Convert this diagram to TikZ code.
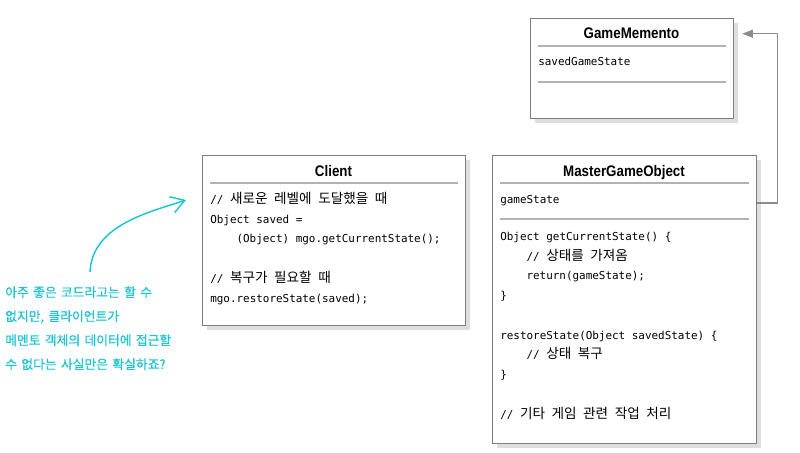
\documentclass[tikz,border=0pt]{standalone}
\usepackage{fontspec}
\setmainfont{Liberation Sans}
\setmonofont{DejaVu Sans Mono}
\newfontfamily\titlefont[FakeStretch=0.87]{Liberation Sans}
\newfontfamily\krfont{Noto Sans CJK KR}
\newfontfamily\notefont[WordSpace=1.5,FakeBold=0.6]{Noto Sans CJK KR}
\usetikzlibrary{positioning,calc,shadows,arrows.meta}
\definecolor{boxgray}{RGB}{125,125,125}
\definecolor{rulegray}{RGB}{178,178,178}
\definecolor{shadowgray}{RGB}{222,222,222}
\definecolor{linkgray}{RGB}{140,140,140}
\definecolor{notecyan}{RGB}{30,196,210}
\newcommand\kr[1]{{\krfont\fontsize{10.2}{14.8}\selectfont #1}}
\newcommand\ind{\hspace*{19.7pt}}

\begin{document}
\begin{tikzpicture}[x=0.75pt, y=-0.75pt,
  box/.style = {draw=boxgray, line width=0.9pt, fill=white,
    anchor=north west, inner sep=0pt,
    drop shadow={shadow xshift=3.5pt, shadow yshift=-3.5pt,
      fill=shadowgray, opacity=1}},
  title/.style = {font=\titlefont\bfseries\fontsize{11.5}{12}\selectfont,
    inner sep=0pt, anchor=base},
  code/.style = {font=\ttfamily\fontsize{8.2}{14.8}\selectfont,
    align=left, anchor=base west, inner sep=0pt},
  sep/.style = {draw=rulegray, line width=0.8pt},
  link/.style = {draw=linkgray, line width=0.8pt,
    -{Triangle[length=8pt,width=6pt]}},
  note/.style = {font=\notefont\fontsize{9.6}{18}\selectfont, text=notecyan,
    align=left, anchor=base west, inner sep=0pt},
  notearr/.style = {draw=notecyan, line width=1.1pt,
    -{Straight Barb[length=10pt,width=12.5pt]}}
  ]
  \useasboundingbox (0,0) rectangle (800,453);

  \node (memento) [box, minimum width=152.25pt, minimum height=75pt] at (530,18) {};
  \node (client) [box, minimum width=197.25pt, minimum height=127.5pt] at (202,155) {};
  \node (mgo) [box, minimum width=198pt, minimum height=216pt] at (492,155) {};

  \node (mementotitle) [title] at (631.5,39) {GameMemento};
  \node (clienttitle) [title] at (333.5,176) {Client};
  \node (mgotitle) [title] at (624,176) {MasterGameObject};

  \draw [sep] ($(memento.north west)+(8,28)$) -- ($(memento.north east)+(-8,28)$);
  \draw [sep] ($(memento.north west)+(8,64)$) -- ($(memento.north east)+(-8,64)$);
  \draw [sep] ($(client.north west)+(8,28)$) -- ($(client.north east)+(-8,28)$);
  \draw [sep] ($(mgo.north west)+(8,28)$) -- ($(mgo.north east)+(-8,28)$);
  \draw [sep] ($(mgo.north west)+(8,64)$) -- ($(mgo.north east)+(-8,64)$);

  % multi-line nodes sit on the baseline of their last line
  \node (mementofields) [code] at (538,66) {savedGameState};
  \node (clientcode) [code] at (210,302) {%
    // \kr{새로운} \kr{레벨에} \kr{도달했을} \kr{때}\\
    Object saved =\\
    \ind(Object) mgo.getCurrentState();\\[14.8pt]
    // \kr{복구가} \kr{필요할} \kr{때}\\
    mgo.restoreState(saved);};
  \node (mgofields) [code] at (500,203) {gameState};
  \node (mgocode) [code] at (500,418) {%
    Object getCurrentState() \{\\
    \ind// \kr{상태를} \kr{가져옴}\\
    \ind return(gameState);\\
    \}\\[14.8pt]
    restoreState(Object savedState) \{\\
    \ind// \kr{상태} \kr{복구}\\
    \}\\[14.8pt]
    // \kr{기타} \kr{게임} \kr{관련} \kr{작업} \kr{처리}};

  \node (note) [note] at (5,369) {아주 좋은 코드라고는 할 수\\
    없지만, 클라이언트가\\
    메멘토 객체의 데이터에 접근할\\
    수 없다는 사실만은 확실하죠?};

  \coordinate (bend) at ($(mgo.north east)+(20,48)$);
  \draw [link] ($(mgo.north east)+(0,48)$) -- (bend)
    |- ($(memento.east |- mementotitle)+(8,0)$);

  \coordinate (notestart) at (90,272);
  \coordinate (notetip) at (186,200);
  \draw [notearr] (notestart) .. controls (92,225) and (150,212) .. (notetip);
\end{tikzpicture}
\end{document}
